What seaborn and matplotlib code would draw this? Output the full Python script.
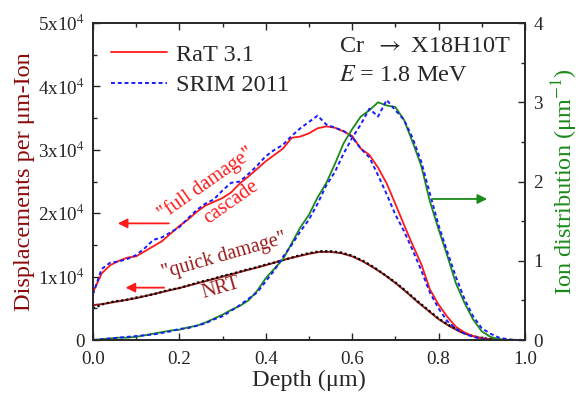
import numpy as np
import pandas as pd
import matplotlib
matplotlib.use("Agg")
import matplotlib.pyplot as plt
import seaborn as sns

# %%
# depth grid (um) for damage / ion distribution curves
depth = np.round(np.arange(0, 1.0001, 0.02), 2)

# "full damage" cascade, displacements per um-ion (x1e4)
full_rat = [0.75, 1.05, 1.18, 1.25, 1.30, 1.32, 1.40, 1.48, 1.56, 1.68,
            1.80, 1.90, 2.02, 2.12, 2.18, 2.24, 2.33, 2.47, 2.58, 2.70,
            2.82, 2.92, 3.02, 3.19, 3.21, 3.26, 3.34, 3.37, 3.35, 3.29,
            3.22, 3.02, 2.92, 2.72, 2.47, 2.15, 1.82, 1.50, 1.20, 0.80,
            0.56, 0.37, 0.21, 0.12, 0.06, 0.02, 0.005, 0.0, 0.0, 0.0, 0.0]
full_srim = [0.72, 1.12, 1.22, 1.24, 1.28, 1.34, 1.45, 1.58, 1.62, 1.70,
             1.78, 1.92, 2.05, 2.15, 2.22, 2.36, 2.48, 2.50, 2.62, 2.75,
             2.90, 3.00, 3.08, 3.22, 3.34, 3.44, 3.54, 3.40, 3.35, 3.30,
             3.20, 3.02, 2.88, 2.60, 2.30, 1.98, 1.72, 1.42, 1.10, 0.75,
             0.50, 0.30, 0.18, 0.10, 0.05, 0.02, 0.0, 0.0, 0.0, 0.0, 0.0]

# ion distribution (um^-1)
ion_rat = [0.00, 0.01, 0.02, 0.03, 0.03, 0.04, 0.06, 0.08, 0.10, 0.12,
           0.13, 0.16, 0.18, 0.22, 0.27, 0.32, 0.38, 0.43, 0.50, 0.62,
           0.78, 0.90, 1.02, 1.22, 1.42, 1.58, 1.80, 1.98, 2.22, 2.48,
           2.66, 2.82, 2.90, 3.00, 2.96, 2.94, 2.78, 2.50, 2.20, 1.75,
           1.40, 1.07, 0.72, 0.47, 0.26, 0.11, 0.04, 0.01, 0.0, 0.0, 0.0]
ion_srim = [0.00, 0.01, 0.02, 0.03, 0.04, 0.05, 0.06, 0.07, 0.09, 0.11,
            0.14, 0.15, 0.18, 0.21, 0.26, 0.30, 0.37, 0.44, 0.52, 0.60,
            0.74, 0.88, 1.05, 1.20, 1.37, 1.52, 1.72, 1.95, 2.12, 2.35,
            2.55, 2.72, 2.92, 2.82, 3.03, 2.90, 2.78, 2.55, 2.25, 1.85,
            1.45, 1.12, 0.80, 0.52, 0.30, 0.15, 0.08, 0.03, 0.01, 0.0, 0.0]

# "quick damage" NRT (x1e4)
depth_nrt = np.round(np.arange(0, 1.0001, 0.025), 3)
nrt_rat = [0.55, 0.57, 0.60, 0.63, 0.66, 0.70, 0.74, 0.78, 0.82, 0.865,
           0.91, 0.955, 1.00, 1.045, 1.09, 1.135, 1.18, 1.23, 1.28, 1.32,
           1.36, 1.39, 1.39, 1.37, 1.32, 1.24, 1.14, 1.03, 0.90, 0.76,
           0.61, 0.47, 0.33, 0.22, 0.13, 0.07, 0.03, 0.01, 0.0, 0.0, 0.0]
nrt_srim = [0.50, 0.57, 0.61, 0.63, 0.67, 0.70, 0.74, 0.79, 0.82, 0.87,
            0.92, 0.96, 1.01, 1.05, 1.10, 1.14, 1.19, 1.23, 1.28, 1.33,
            1.37, 1.40, 1.40, 1.38, 1.33, 1.25, 1.15, 1.03, 0.91, 0.77,
            0.62, 0.48, 0.34, 0.23, 0.14, 0.07, 0.03, 0.01, 0.0, 0.0, 0.0]

left_ticks = [0, 1e4, 2e4, 3e4, 4e4, 5e4]
left_labels = ['0', '1x10$^4$', '2x10$^4$', '3x10$^4$', '4x10$^4$', '5x10$^4$']
right_ticks = [0, 1, 2, 3, 4]
x_ticks = [0.0, 0.2, 0.4, 0.6, 0.8, 1.0]

df = pd.DataFrame({'depth': depth,
                   'full_rat': np.array(full_rat) * 1e4,
                   'full_srim': np.array(full_srim) * 1e4,
                   'ion_rat': ion_rat, 'ion_srim': ion_srim})
df_nrt = pd.DataFrame({'depth': depth_nrt,
                       'nrt_rat': np.array(nrt_rat) * 1e4,
                       'nrt_srim': np.array(nrt_srim) * 1e4})

# %%
sns.set_style('ticks')
plt.rcParams['font.family'] = ['Liberation Serif', 'DejaVu Serif']
plt.rcParams['mathtext.fontset'] = 'stix'

red = '#ff1a1a'
blue = '#1a1aff'
green = '#1a8a1a'
brown = '#9b1b1b'
dash = (0, (2, 1.5))

fig, ax = plt.subplots(figsize=(5.8, 3.98), dpi=100)
fig.subplots_adjust(left=0.1603, right=0.905, bottom=0.1457, top=0.942)
ax2 = ax.twinx()

sns.lineplot(data=df_nrt, x='depth', y='nrt_rat', ax=ax, color=brown, lw=1.4)
sns.lineplot(data=df_nrt, x='depth', y='nrt_srim', ax=ax, color='black',
             lw=1.6, linestyle=(0, (1, 1.2)))
sns.lineplot(data=df, x='depth', y='full_rat', ax=ax, color=red, lw=1.3,
             label='RaT 3.1')
sns.lineplot(data=df, x='depth', y='full_srim', ax=ax, color=blue, lw=1.4,
             linestyle=dash, label='SRIM 2011')
sns.lineplot(data=df, x='depth', y='ion_rat', ax=ax2, color=green, lw=1.3)
sns.lineplot(data=df, x='depth', y='ion_srim', ax=ax2, color=blue, lw=1.4,
             linestyle=dash)

ax.set_xlim(0, 1)
ax.set_ylim(0, 5e4)
ax2.set_ylim(0, 4)
ax.set_xticks(x_ticks, [f'{t:.1f}' for t in x_ticks])
ax.set_xticks(np.arange(0.1, 1.0, 0.2), minor=True)
ax.set_yticks(left_ticks, left_labels)
ax.set_yticks(np.arange(0.5e4, 5e4, 1e4), minor=True)
ax2.set_yticks(right_ticks, [str(t) for t in right_ticks])
ax2.set_yticks(np.arange(0.5, 4, 1), minor=True)

ax.tick_params(which='both', direction='in', top=True, labelsize=13.8, width=1)
ax.tick_params(axis='x', which='major', pad=8)
ax.tick_params(axis='y', which='major', pad=6)
ax.tick_params(which='major', length=5)
ax.tick_params(which='minor', length=3)
ax2.tick_params(which='both', direction='in', labelsize=13.8, pad=6, width=1)
ax2.tick_params(which='major', length=5)
ax2.tick_params(which='minor', length=3)
for a in (ax, ax2):
    for s in a.spines.values():
        s.set_linewidth(1.2)
        s.set_visible(True)

ax.set_xlabel('Depth (μm)', fontsize=17.5, labelpad=1)
ax.set_ylabel('Displacements per μm-Ion', fontsize=17.5, color='#8b0a0a', labelpad=2)
ax2.set_ylabel('Ion distribution (μm$^{-1}$)', fontsize=17.5, color=green, labelpad=5)

ax.legend(loc='upper left', bbox_to_anchor=(0.02, 0.965), frameon=False,
          fontsize=17.5, handlelength=2.3, handletextpad=0.35, labelspacing=0.35,
          borderaxespad=0)

# %%
# annotations
ax.text(0.262, 2.46e4, '"full damage"', color=red, fontsize=14.5, rotation=35,
        rotation_mode='anchor', ha='center', va='center')
ax.text(0.32, 2.17e4, 'cascade', color=red, fontsize=14.5, rotation=35,
        rotation_mode='anchor', ha='center', va='center')
ax.text(0.305, 1.33e4, '"quick damage"', color=brown, fontsize=14.5, rotation=16,
        rotation_mode='anchor', ha='center', va='center')
ax.text(0.296, 0.82e4, 'NRT', color=brown, fontsize=14.5, rotation=16,
        rotation_mode='anchor', ha='center', va='center')

arrow = dict(arrowstyle='-|>', lw=1.3, mutation_scale=14)
ax.annotate('', xy=(0.051, 1.84e4), xytext=(0.182, 1.84e4),
            arrowprops=dict(arrow, color=red))
ax.annotate('', xy=(0.069, 0.826e4), xytext=(0.171, 0.826e4),
            arrowprops=dict(arrow, color=red))
ax2.annotate('', xy=(0.919, 1.78), xytext=(0.78, 1.78),
             arrowprops=dict(arrow, color=green))

ax.text(0.569, 4.63e4, r'Cr  $\rightarrow$ X18H10T', fontsize=17.5, ha='left', va='center')
ax.text(0.569, 4.18e4, '$E$ = 1.8 MeV', fontsize=17.5, ha='left', va='center')

fig.savefig('out.png', dpi=100)
